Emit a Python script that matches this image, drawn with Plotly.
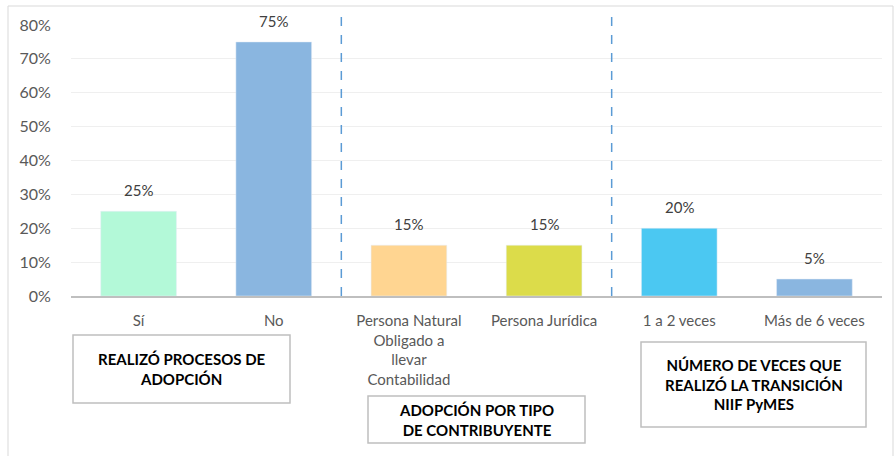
import plotly.graph_objects as go

categories = ["Sí", "No", "Persona Natural<br>Obligado a<br>llevar<br>Contabilidad",
              "Persona Jurídica", "1 a 2 veces", "Más de 6 veces"]
values = [0.25, 0.75, 0.15, 0.15, 0.20, 0.05]
labels = ["25%", "75%", "15%", "15%", "20%", "5%"]
colors = ["#B3F9D8", "#8AB6E0", "#FFD591", "#DCDC4A", "#4BC8F2", "#8AB6E0"]
y_ticks = [0, 0.1, 0.2, 0.3, 0.4, 0.5, 0.6, 0.7, 0.8]
y_tick_labels = ["0%", "10%", "20%", "30%", "40%", "50%", "60%", "70%", "80%"]
group_titles = ["REALIZÓ PROCESOS DE<br>ADOPCIÓN",
                "ADOPCIÓN POR TIPO<br>DE CONTRIBUYENTE",
                "NÚMERO DE VECES QUE<br>REALIZÓ LA TRANSICIÓN<br>NIIF PyMES"]

W, H = 894, 456
L, R, T, B = 71, 882, 25, 296
pw, ph = R - L, B - T

def px(x):
    return (x - L) / pw

def py(y):
    return (B - y) / ph

xs = list(range(len(categories)))

fig = go.Figure(go.Bar(
    x=xs, y=values, marker_color=colors, width=0.56, hoverinfo="skip",
))

annotations = []
for x, v, t in zip(xs, values, labels):
    annotations.append(dict(x=x, y=v, xref="x", yref="y", text=t, showarrow=False,
                            yanchor="bottom", yshift=10,
                            font=dict(size=15, color="#404040", family="Lato")))

shapes = []
for xb in [1.5, 3.5]:
    shapes.append(dict(type="line", xref="x", yref="paper", x0=xb, x1=xb,
                       y0=0, y1=py(8), line=dict(color="#5B9BD5", width=1.5, dash="dash")))
shapes.append(dict(type="rect", xref="paper", yref="paper",
                   x0=px(8), x1=px(893), y0=py(470), y1=py(6),
                   line=dict(color="#D9D9D9", width=1)))

boxes = [((73, 290, 335, 403)), ((368, 585, 396, 443)), ((641, 866, 342, 427))]
for (x0, x1, y0, y1), t in zip(boxes, group_titles):
    shapes.append(dict(type="rect", xref="paper", yref="paper",
                       x0=px(x0), x1=px(x1), y0=py(y1), y1=py(y0),
                       line=dict(color="#BFBFBF", width=1.5), fillcolor="white"))
    annotations.append(dict(xref="paper", yref="paper", x=px((x0 + x1) / 2), y=py((y0 + y1) / 2),
                            text=f"<b>{t}</b>", showarrow=False, xanchor="center", yanchor="middle",
                            font=dict(size=15, color="#000000", family="Lato")))

fig.update_layout(
    width=W, height=H, margin=dict(l=L, r=W - R, t=T, b=H - B, autoexpand=False),
    paper_bgcolor="white", plot_bgcolor="white", showlegend=False,
    shapes=shapes, annotations=annotations,
    xaxis=dict(tickmode="array", tickvals=xs, ticktext=categories, range=[-0.5, 5.5],
               showgrid=False, showline=True, linecolor="#BFBFBF", linewidth=2,
               automargin=False,
               tickfont=dict(size=15, color="#595959", family="Lato"),
               ticks="outside", ticklen=10, tickcolor="rgba(0,0,0,0)"),
    yaxis=dict(range=[0, 0.8], tickvals=y_ticks, ticktext=y_tick_labels,
               showgrid=True, gridcolor="#EFEFEF", gridwidth=1, zeroline=False,
               automargin=False,
               tickfont=dict(size=16, color="#595959", family="Lato"),
               ticks="outside", ticklen=16, tickcolor="rgba(0,0,0,0)"),
    bargap=0.44,
)

fig.write_html("out.html", config={"displayModeBar": False},
               post_script="document.body.style.margin='0';document.body.style.overflow='hidden';")
